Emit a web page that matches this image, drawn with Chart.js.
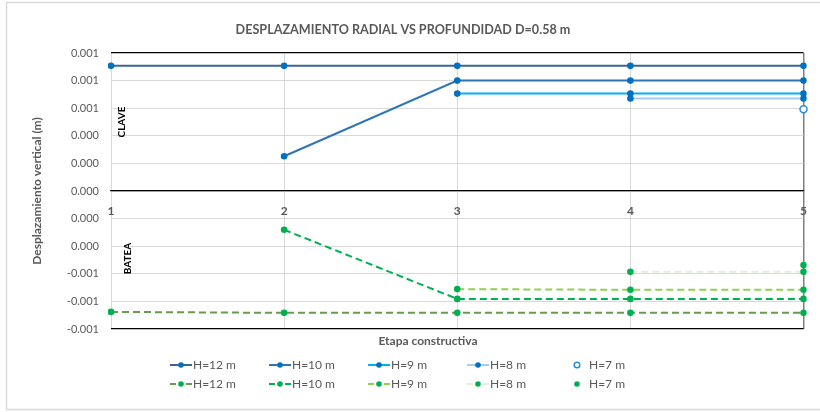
<!DOCTYPE html>
<html>
<head>
<meta charset="utf-8">
<script src="https://cdn.jsdelivr.net/npm/chart.js@4.4.1/dist/chart.umd.min.js"></script>
<style>
  html, body { margin: 0; padding: 0; background: #ffffff; }
  #wrap { width: 820px; height: 412px; }
</style>
</head>
<body>
<div id="wrap"><canvas id="c" width="820" height="412"></canvas></div>
<script>
// ---------- DATA ----------
const stages = ['1', '2', '3', '4', '5'];
const seriesNames = ['H=12 m', 'H=10 m', 'H=9 m', 'H=8 m', 'H=7 m'];

// CLAVE (upper group)
const claveH12 = [0.000907, 0.000907, 0.000907, 0.000907, 0.000907];
const claveH10 = [null, 0.000252, 0.000800, 0.000800, 0.000800];
const claveH9  = [null, null, 0.000706, 0.000706, 0.000706];
const claveH8  = [null, null, null, 0.000670, 0.000670];
const claveH7  = [null, null, null, null, 0.000593];

// BATEA (lower group)
const bateaH12 = [-0.000876, -0.000883, -0.000883, -0.000883, -0.000883];
const bateaH10 = [null, -0.000281, -0.000782, -0.000782, -0.000782];
const bateaH9  = [null, null, -0.000711, -0.000716, -0.000716];
const bateaH8  = [null, null, null, -0.000586, -0.000586];
const bateaH7  = [null, null, null, null, -0.000537];

const yMin = -0.001, yMax = 0.001, yStep = 0.0002;

// ---------- STYLE ----------
const FONT = 'Lato, "Open Sans", "Liberation Sans", sans-serif';
const GREY = '#595959';
const BLUE_PT = '#0070C0';
const GREEN_PT = '#00B050';

function lineDs(label, data, color, ptColor, dashed) {
  return {
    label, data,
    borderColor: color,
    backgroundColor: color,
    borderWidth: 2,
    borderDash: dashed ? [7, 4] : [],
    pointRadius: 3.3,
    pointHoverRadius: 3.3,
    pointBackgroundColor: ptColor,
    pointBorderColor: ptColor,
    pointBorderWidth: 0,
    tension: 0,
    spanGaps: false
  };
}

const datasets = [
  lineDs(seriesNames[0], claveH12, '#3B6596', BLUE_PT, false),
  lineDs(seriesNames[1], claveH10, '#2E75B6', BLUE_PT, false),
  lineDs(seriesNames[2], claveH9,  '#00B0F0', BLUE_PT, false),
  lineDs(seriesNames[3], claveH8,  '#A9CCEB', BLUE_PT, false),
  Object.assign(lineDs(seriesNames[4], claveH7, '#2E8BD6', '#ffffff', false),
    { showLine: false, pointBorderColor: '#2E8BD6', pointBorderWidth: 1.5, pointRadius: 3.5 }),
  lineDs(seriesNames[0], bateaH12, '#6A9A4C', GREEN_PT, true),
  lineDs(seriesNames[1], bateaH10, '#00B050', GREEN_PT, true),
  lineDs(seriesNames[2], bateaH9,  '#92D050', GREEN_PT, true),
  lineDs(seriesNames[3], bateaH8,  '#E2F0D9', GREEN_PT, true),
  Object.assign(lineDs(seriesNames[4], bateaH7, GREEN_PT, GREEN_PT, false), { showLine: false })
];

// ---------- PLUGINS ----------
const frame = {
  id: 'frame',
  beforeDraw(chart) {
    const ctx = chart.ctx;
    ctx.save();
    ctx.fillStyle = '#ffffff';
    ctx.fillRect(0, 0, chart.width, chart.height);
    ctx.strokeStyle = '#D9D9D9';
    ctx.lineWidth = 1.5;
    ctx.strokeRect(6.5, 2.5, 830, 407);
    ctx.restore();
  }
};

const extras = {
  id: 'extras',
  afterDraw(chart) {
    const ctx = chart.ctx;
    const ys = chart.scales.y;
    const area = chart.chartArea;
    ctx.save();
    // group labels
    ctx.fillStyle = '#000000';
    ctx.font = 'bold 10px ' + FONT;
    ctx.textAlign = 'center';
    ctx.textBaseline = 'middle';
    ctx.save();
    ctx.translate(area.left + 11, ys.getPixelForValue(0.00050));
    ctx.rotate(-Math.PI / 2);
    ctx.fillText('CLAVE', 0, 0);
    ctx.restore();
    ctx.save();
    ctx.translate(area.left + 17, ys.getPixelForValue(-0.00049));
    ctx.rotate(-Math.PI / 2);
    ctx.fillText('BATEA', 0, 0);
    ctx.restore();

    // x axis title
    ctx.fillStyle = GREY;
    ctx.font = 'bold 12px ' + FONT;
    ctx.fillText('Etapa constructiva', 428, area.bottom + 12);

    // legend (5 columns x 2 rows)
    ctx.font = '12px ' + FONT;
    ctx.textAlign = 'left';
    ctx.textBaseline = 'middle';
    chart.data.datasets.forEach((d, i) => {
      const col = i % 5, row = Math.floor(i / 5);
      const x0 = 170 + 99 * col;
      const y = 365 + 19 * row;
      if (d.showLine !== false) {
        ctx.strokeStyle = d.borderColor;
        ctx.lineWidth = d.borderWidth;
        ctx.beginPath();
        if (d.borderDash && d.borderDash.length) {
          ctx.moveTo(x0, y); ctx.lineTo(x0 + 6, y);
          ctx.moveTo(x0 + 16, y); ctx.lineTo(x0 + 22, y);
        } else {
          ctx.moveTo(x0, y); ctx.lineTo(x0 + 22, y);
        }
        ctx.stroke();
      }
      ctx.beginPath();
      ctx.arc(x0 + 11, y, 2.8, 0, Math.PI * 2);
      ctx.fillStyle = d.pointBackgroundColor;
      ctx.fill();
      if (d.pointBorderWidth > 0) {
        ctx.strokeStyle = d.pointBorderColor;
        ctx.lineWidth = d.pointBorderWidth;
        ctx.stroke();
      }
      ctx.fillStyle = GREY;
      ctx.fillText(d.label, x0 + 23, y + 0.5);
    });
    ctx.restore();
  }
};

function isEdge(v) { return Math.abs(Math.abs(v) - 0.001) < 1e-9; }

new Chart(document.getElementById('c'), {
  type: 'line',
  data: { labels: stages, datasets },
  plugins: [frame, extras],
  options: {
    responsive: false,
    devicePixelRatio: 1,
    animation: false,
    events: [],
    layout: { padding: { left: 0, right: 14, top: 0, bottom: 83 } },
    plugins: {
      legend: { display: false },
      tooltip: { enabled: false },
      title: {
        display: true,
        text: 'DESPLAZAMIENTO RADIAL VS PROFUNDIDAD D=0.58 m',
        color: GREY,
        font: { family: FONT, size: 12.6, weight: 'bold' },
        padding: { top: 22, bottom: 15.9 }
      }
    },
    scales: {
      x: {
        type: 'category',
        position: { y: 0 },
        offset: false,
        grid: {
          color: (c) => (c.index === stages.length - 1 ? '#7F7F7F' : '#D9D9D9'),
          lineWidth: (c) => (c.index === stages.length - 1 ? 1.5 : 1),
          drawTicks: false
        },
        border: { display: true, color: '#000000', width: 1.3 },
        ticks: {
          color: GREY,
          font: { family: FONT, size: 12, weight: 'bold' },
          padding: 13,
          maxRotation: 0
        }
      },
      y: {
        type: 'linear',
        position: 'left',
        min: yMin, max: yMax,
        afterFit: (s) => { s.width = 111; },
        grid: {
          color: (c) => (c.tick && isEdge(c.tick.value) ? '#000000' : '#D9D9D9'),
          lineWidth: (c) => (c.tick && isEdge(c.tick.value) ? 1.3 : 1),
          drawTicks: false
        },
        border: { display: false },
        ticks: {
          stepSize: yStep,
          color: GREY,
          font: { family: FONT, size: 11 },
          padding: 12,
          callback: (v) => {
            const r = Math.round(v * 1000);
            return (r === 0 ? 0 : r / 1000).toFixed(3);
          }
        },
        title: {
          display: true,
          text: 'Desplazamiento vertical (m)',
          color: GREY,
          font: { family: FONT, size: 12, weight: 'bold' },
          padding: { top: 30, bottom: 0 }
        }
      }
    }
  }
});
</script>
</body>
</html>
